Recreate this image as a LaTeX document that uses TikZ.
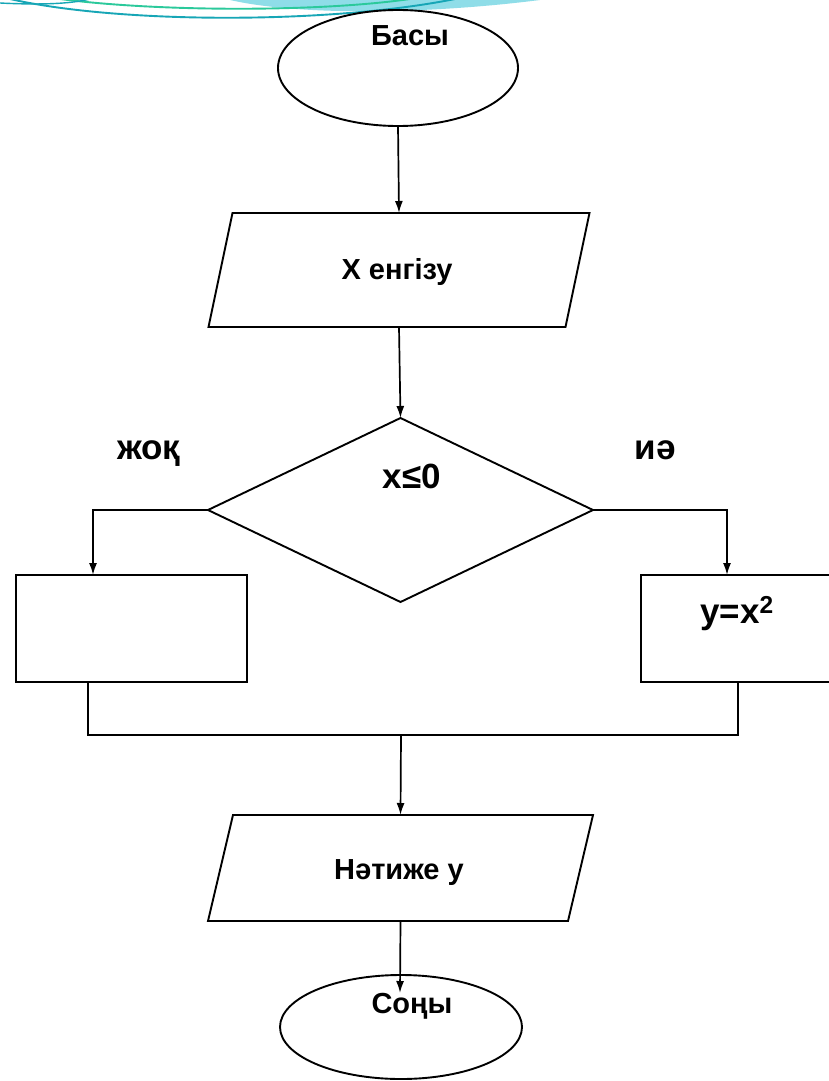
\documentclass[tikz,border=0pt]{standalone}
\usepackage{fontspec}
\setmainfont{Liberation Sans}
\usetikzlibrary{shapes.geometric,arrows.meta}
\definecolor{decoteal}{HTML}{17A6B6}
\definecolor{decogreen}{HTML}{2BC99B}
\definecolor{decocyan}{HTML}{8FDDE8}
\tikzset{
  shapeline/.style={draw=black,line width=1.9pt,fill=white,inner sep=0pt,outer sep=0pt},
  conn/.style={draw=black,line width=1.7pt},
  arr/.style={conn,-{Latex[length=12pt,width=8pt]}},
  boxtext/.style={anchor=base,inner sep=0pt,font=\bfseries\fontsize{29}{32}\selectfont},
  labtext/.style={anchor=base,inner sep=0pt,font=\bfseries\fontsize{35}{38}\selectfont},
}
\begin{document}
\begin{tikzpicture}[x=1pt,y=-1pt]
\useasboundingbox (0,0) rectangle (829,1081);
\clip (0,0) rectangle (829,1081);
\fill[white] (0,0) rectangle (829,1081);
% template decoration
\fill[decocyan] (230,0) .. controls (300,16) and (430,14) .. (540,0) -- cycle;
\draw[decogreen,line width=1.9pt] (60,-1) .. controls (160,12) and (320,12) .. (410,-1);
\draw[decoteal,line width=1.9pt] (10,-1) .. controls (120,24) and (330,24) .. (455,-1);
\draw[decoteal,line width=1.4pt] (0,3) .. controls (40,5) and (70,4) .. (90,-1);
% shapes
\node[shapeline,ellipse,minimum width=240pt,minimum height=116pt] (start) at (398,68) {};
\node[boxtext] (starttxt) at (410,46) {Басы};
\node[draw=none,minimum width=357pt,minimum height=114pt,inner sep=0pt,outer sep=0pt] (in) at (399,270) {};
\draw[shapeline] ([xshift=12pt]in.north west) -- ([xshift=12pt]in.north east) -- ([xshift=-12pt]in.south east) -- ([xshift=-12pt]in.south west) -- cycle;
\node[boxtext] (intxt) at (397,279) {X енгізу};
\node[shapeline,diamond,minimum width=385pt,minimum height=184pt] (dec) at (400.5,510) {};
\node[labtext] (dectxt) at (412,488) {x≤0};
\node[labtext] (notxt) at (149,459) {жоқ};
\node[labtext] (yestxt) at (655,459) {иә};
\node[shapeline,rectangle,minimum width=231pt,minimum height=107pt] (lbox) at (131.5,628.5) {};
\node[shapeline,rectangle,minimum width=195pt,minimum height=107pt] (rbox) at (738.5,628.5) {};
\node[labtext] (rtxt) at (737,623) {y=x\textsuperscript{2}};
\node[draw=none,minimum width=360pt,minimum height=106pt,inner sep=0pt,outer sep=0pt] (out) at (400.5,868) {};
\draw[shapeline] ([xshift=12.5pt]out.north west) -- ([xshift=12.5pt]out.north east) -- ([xshift=-12.5pt]out.south east) -- ([xshift=-12.5pt]out.south west) -- cycle;
\node[boxtext] (outtxt) at (399,879) {Нәтиже у};
\node[shapeline,ellipse,minimum width=242pt,minimum height=104pt] (end) at (401,1027) {};
\node[boxtext] (endtxt) at (412,1013) {Соңы};
% connectors
\coordinate (join) at (401,735);
\coordinate (endtip) at (400,993);
\draw[arr] (start.south) -- (in.north);
\draw[arr] (in.south) -- (dec.north);
\draw[arr] (dec.west) -| ([xshift=77pt]lbox.north west);
\draw[arr] (dec.east) -| ([xshift=86pt]rbox.north west);
\draw[conn] ([xshift=72pt]lbox.south west) |- (join) -| ([xshift=97pt]rbox.south west);
\draw[arr] (join) -- (out.north);
\draw[arr] (out.south) -- (endtip);
\end{tikzpicture}
\end{document}
